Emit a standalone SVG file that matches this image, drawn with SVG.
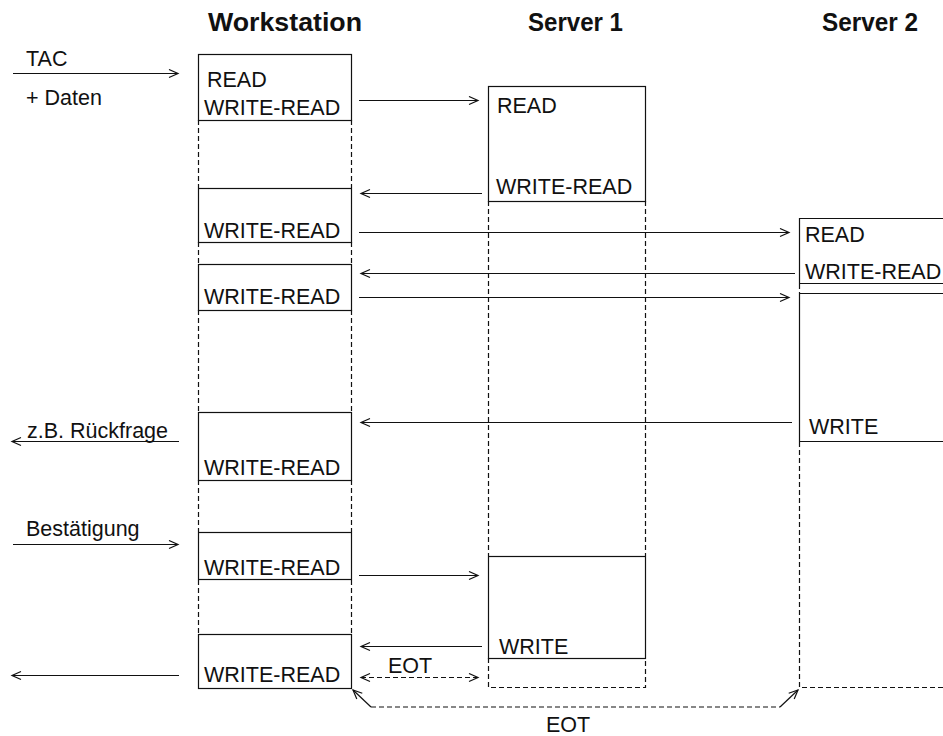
<svg xmlns="http://www.w3.org/2000/svg" width="943" height="736" viewBox="0 0 943 736">
<style>
text{font-family:"Liberation Sans",Arial,sans-serif;font-size:21.5px;fill:#111}
.t{font-weight:bold;font-size:26.5px}
.box{fill:#fff;stroke:#111;stroke-width:1.2}
.sl{stroke:#111;stroke-width:1.2;fill:none}
.dl{stroke:#111;stroke-width:1.2;fill:none;stroke-dasharray:5 3}
.ar{stroke:#111;stroke-width:1.2;fill:none;marker-end:url(#ah)}
.ar2{stroke:#111;stroke-width:1.2;fill:none;stroke-dasharray:5 3;marker-end:url(#ah);marker-start:url(#ah)}
</style>
<defs>
<marker id="ah" markerUnits="userSpaceOnUse" markerWidth="12" markerHeight="12" refX="10" refY="5" orient="auto-start-reverse">
<path d="M1,1 L10,5 L1,9" fill="none" stroke="#111" stroke-width="1.2" stroke-dasharray="none"/>
</marker>
</defs>
<rect width="943" height="736" fill="#fff"/>

<g id="titles">
<text class="t" x="208" y="31" textLength="154" lengthAdjust="spacingAndGlyphs">Workstation</text>
<text class="t" x="528" y="31" textLength="95" lengthAdjust="spacingAndGlyphs">Server 1</text>
<text class="t" x="822" y="31" textLength="96" lengthAdjust="spacingAndGlyphs">Server 2</text>
</g>

<g id="workstation">
<path class="dl" d="M198.5,120 V188 M351.5,120 V188 M198.5,242 V265 M351.5,242 V265 M198.5,310 V412 M351.5,310 V412 M198.5,480 V532 M351.5,480 V532 M198.5,580 V634 M351.5,580 V634"/>
<rect class="box" x="198.5" y="54.5" width="153" height="66"/>
<text x="207" y="87">READ</text>
<text x="204" y="115">WRITE-READ</text>
<rect class="box" x="198.5" y="188.5" width="153" height="54"/>
<text x="204" y="238">WRITE-READ</text>
<rect class="box" x="198.5" y="264.5" width="153" height="46"/>
<text x="204" y="304">WRITE-READ</text>
<rect class="box" x="198.5" y="412.5" width="153" height="68"/>
<text x="204" y="475">WRITE-READ</text>
<rect class="box" x="198.5" y="532.5" width="153" height="47"/>
<text x="204" y="575">WRITE-READ</text>
<rect class="box" x="198.5" y="634.5" width="153" height="54"/>
<text x="204" y="682">WRITE-READ</text>
</g>

<g id="server1">
<path class="dl" d="M488.5,201 V556 M645.5,201 V556 M488.5,658 V687.5 H645.5 V658"/>
<rect class="box" x="488.5" y="86.5" width="157" height="115"/>
<text x="497" y="113">READ</text>
<text x="496" y="194">WRITE-READ</text>
<rect class="box" x="488.5" y="556.5" width="157" height="102"/>
<text x="499" y="654">WRITE</text>
</g>

<g id="server2">
<path class="sl" d="M945,218.5 H799.5 V283.5 H945"/>
<path class="dl" d="M799.5,284 V293"/>
<path class="sl" d="M945,293.5 H799.5 V441.5 H945"/>
<path class="dl" d="M799.5,442 V687.5 H945"/>
<text x="805" y="242">READ</text>
<text x="805" y="279">WRITE-READ</text>
<text x="809" y="434">WRITE</text>
</g>

<g id="labels">
<text x="26" y="66">TAC</text>
<text x="26" y="105">+ Daten</text>
<text x="27" y="438">z.B. Rückfrage</text>
<text x="26" y="536">Bestätigung</text>
<text x="388" y="673">EOT</text>
<text x="546" y="732">EOT</text>
</g>

<g id="connectors">
<line class="ar" x1="13" y1="73.5" x2="178" y2="73.5"/>
<line class="ar" x1="359" y1="100.5" x2="478" y2="100.5"/>
<line class="ar" x1="482" y1="193.5" x2="361" y2="193.5"/>
<line class="ar" x1="359" y1="232.5" x2="789" y2="232.5"/>
<line class="ar" x1="795" y1="273.5" x2="361" y2="273.5"/>
<line class="ar" x1="359" y1="297.5" x2="789" y2="297.5"/>
<line class="ar" x1="792" y1="422.5" x2="361" y2="422.5"/>
<line class="ar" x1="179" y1="441.5" x2="12" y2="441.5"/>
<line class="ar" x1="13" y1="544.5" x2="178" y2="544.5"/>
<line class="ar" x1="359" y1="575.5" x2="478" y2="575.5"/>
<line class="ar" x1="482" y1="646.5" x2="361" y2="646.5"/>
<line class="ar2" x1="361" y1="677.5" x2="478" y2="677.5"/>
<line class="ar" x1="179" y1="675.5" x2="12" y2="675.5"/>
<line class="ar" x1="371" y1="707" x2="353" y2="690"/>
<path class="dl" d="M371,707 H780"/>
<line class="ar" x1="780" y1="707" x2="798" y2="690"/>
</g>
</svg>
